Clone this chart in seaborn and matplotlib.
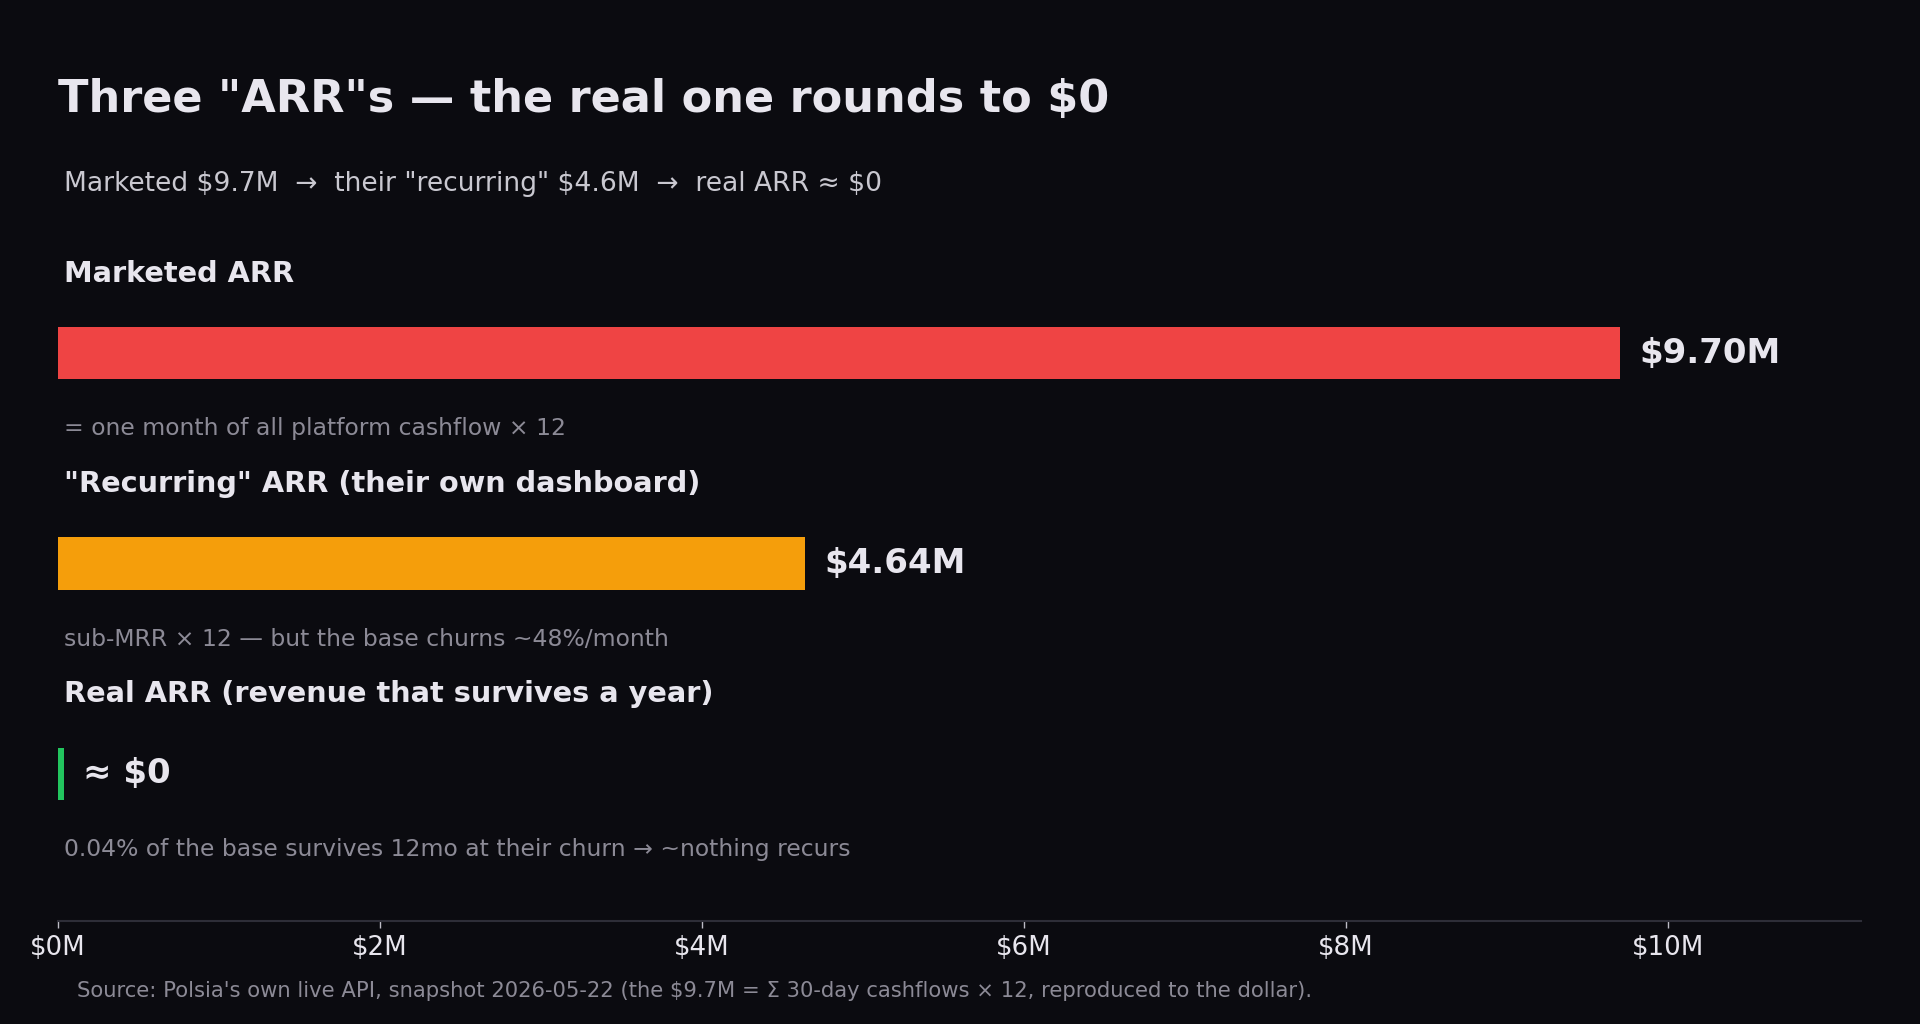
import matplotlib
matplotlib.use("Agg")
import matplotlib.pyplot as plt
import matplotlib.transforms as mtransforms
from matplotlib.ticker import FuncFormatter
import seaborn as sns
import pandas as pd

# ---- data ----
row_labels = ['Marketed ARR', '"Recurring" ARR (their own dashboard)', 'Real ARR (revenue that survives a year)']
arr_values = [9.70, 4.64, 0.0]          # $M
value_text = ['$9.70M', '$4.64M', '≈ $0']
notes = ['= one month of all platform cashflow × 12',
         'sub-MRR × 12 — but the base churns ~48%/month',
         '0.04% of the base survives 12mo at their churn → ~nothing recurs']
bar_colors = ['#ef4444', '#f59e0b', '#22c55e']
x_ticks = [0, 2, 4, 6, 8, 10]

title = 'Three "ARR"s — the real one rounds to $0'
subtitle = 'Marketed $9.7M  →  their "recurring" $4.6M  →  real ARR ≈ $0'
source = ("Source: Polsia's own live API, snapshot 2026-05-22 "
          "(the $9.7M = Σ 30-day cashflows × 12, reproduced to the dollar).")

BG = '#0b0b10'
FG = '#e8e6ee'
MUTED = '#8c8a96'
MIN_VIS = 0.04  # so a ~$0 bar still shows as a sliver

sns.set_theme(style='dark')
plt.rcParams['font.family'] = ['DejaVu Sans']

df = pd.DataFrame({'label': row_labels,
                   'plot_val': [max(v, MIN_VIS) for v in arr_values]})

fig = plt.figure(figsize=(19.2, 10.24), dpi=100, facecolor=BG)
ax = fig.add_axes([0.0300, 0.1005, 0.9394, 0.6985])
ax.set_facecolor(BG)

sns.barplot(data=df, x='plot_val', y='label', hue='label', palette=bar_colors,
            orient='h', width=0.25, legend=False, ax=ax, saturation=1,
            linewidth=0, edgecolor='none')

ax.set_xlim(0, 11.2)
ax.set_ylim(2.7, -0.7)
ax.set_xticks(x_ticks)
ax.xaxis.set_major_formatter(FuncFormatter(lambda v, p: f'${v:.0f}M'))
ax.tick_params(axis='x', colors='#bdbcc6', labelcolor=FG, labelsize=18.8,
               length=5, width=1, pad=5, bottom=True)
ax.set_yticks([])
ax.set_xlabel('')
ax.set_ylabel('')
ax.grid(False)
for side in ['top', 'right', 'left']:
    ax.spines[side].set_visible(False)
ax.spines['bottom'].set_color('#2e2e38')
ax.spines['bottom'].set_linewidth(1.5)

blend = mtransforms.blended_transform_factory(ax.transAxes, ax.transData)
for i, (lab, v, vt, note) in enumerate(zip(row_labels, arr_values, value_text, notes)):
    ax.text(0.0034, i - 0.378, lab, transform=blend, color=FG, fontsize=20.7,
            fontweight='bold', va='center', ha='left')
    ax.text(0.0034, i + 0.36, note, transform=blend, color=MUTED, fontsize=16.9,
            va='center', ha='left')
    ax.annotate(vt, xy=(max(v, MIN_VIS), i), xytext=(14, 0), textcoords='offset points',
                color=FG, fontsize=24.5, fontweight='bold', va='center', ha='left')

fig.text(0.030, 1 - 112 / 1024, title, color=FG, fontsize=32.1, fontweight='bold',
         va='baseline', ha='left')
fig.text(0.0333, 1 - 191 / 1024, subtitle, color='#c9c8d0', fontsize=19.1,
         va='baseline', ha='left')
fig.text(0.040, 0.032, source, color=MUTED, fontsize=15.2, va='center', ha='left')

fig.savefig('out.png', dpi=100, facecolor=BG)
